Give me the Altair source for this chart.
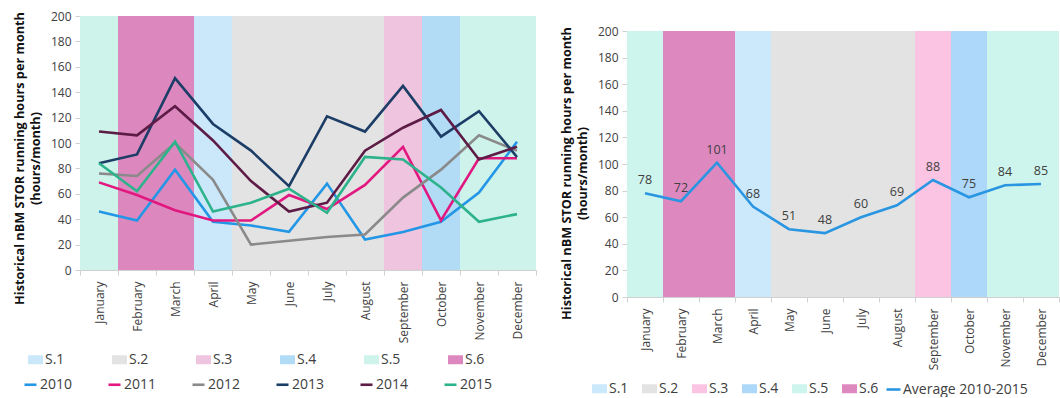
import altair as alt
import pandas as pd

# Calendar months and the season band each one falls in
months = ["January", "February", "March", "April", "May", "June",
          "July", "August", "September", "October", "November", "December"]
month_season = ["S.5", "S.6", "S.6", "S.1", "S.2", "S.2",
                "S.2", "S.2", "S.3", "S.4", "S.5", "S.5"]
season_names = ["S.1", "S.2", "S.3", "S.4", "S.5", "S.6"]
band_ceiling = [200] * 12

# Monthly STOR running hours per year
years = ["2010", "2011", "2012", "2013", "2014", "2015"]
hours_2010 = [46, 39, 79, 38, 35, 30, 68, 24, 30, 38, 61, 101]
hours_2011 = [69, 59, 47, 39, 39, 59, 48, 67, 97, 39, 88, 88]
hours_2012 = [76, 74, 100, 71, 20, 23, 26, 28, 57, 79, 106, 94]
hours_2013 = [84, 91, 151, 115, 94, 66, 121, 109, 145, 105, 125, 89]
hours_2014 = [109, 106, 129, 102, 70, 46, 53, 94, 112, 126, 87, 97]
hours_2015 = [84, 62, 101, 46, 53, 64, 45, 89, 87, 65, 38, 44]
average_2010_2015 = [78, 72, 101, 68, 51, 48, 60, 69, 88, 75, 84, 85]

# Colours
season_colors_left = ["#cbe8fb", "#e3e3e3", "#efc4df", "#b2dbf6", "#cdf3ea", "#dc88bf"]
season_colors_right = ["#cce9fb", "#e3e3e3", "#fcc4e3", "#aed8f9", "#cdf5ed", "#de88c0"]
year_colors = ["#2496e6", "#e1187f", "#8a8a8a", "#1c3d66", "#5c1c46", "#2db38b"]
average_color = "#2a96e2"

FONT = "Open Sans"
TEXT = "#404040"
AXIS_LINE = "#d0d0d0"
Y_TITLE = ["Historical nBM STOR running hours per month", "(hours/month)"]

bands = pd.DataFrame({"month": months, "season": month_season, "top": band_ceiling})
yearly = pd.DataFrame({
    "month": months * len(years),
    "year": [y for y in years for _ in months],
    "hours": hours_2010 + hours_2011 + hours_2012 + hours_2013 + hours_2014 + hours_2015,
})
avg = pd.DataFrame({"month": months, "series": "Average 2010-2015", "hours": average_2010_2015})

x_axis = alt.Axis(
    title=None, labelAngle=-90, labelFontSize=12, labelColor=TEXT, labelFont=FONT,
    labelPadding=6, tickBand="extent", tickColor=AXIS_LINE, tickSize=5,
    domainColor=AXIS_LINE, grid=False,
)


def x_enc():
    return alt.X("month:N", sort=months,
                 scale=alt.Scale(paddingInner=0, paddingOuter=0), axis=x_axis)


def y_axis(title_y):
    return alt.Axis(
        title=Y_TITLE, values=list(range(0, 201, 20)), grid=False, domain=False,
        tickColor=AXIS_LINE, tickSize=5, labelFontSize=12, labelColor=TEXT,
        labelFont=FONT, labelPadding=4, labelOverlap=False, titleFont=FONT,
        titleFontSize=12.7, titleFontWeight="bold", titleColor="#111111",
        titleY=title_y, titlePadding=8, titleLineHeight=16,
    )


def band_legend(lx, ly, pad, size):
    return alt.Legend(
        title=None, orient="none", legendX=lx, legendY=ly, direction="horizontal",
        columns=6, gridAlign="all", symbolType="M-1,-0.6H1V0.6H-1Z", symbolSize=225,
        symbolStrokeWidth=0, labelFontSize=size, labelFont=FONT, labelColor=TEXT,
        labelOffset=2, columnPadding=pad,
    )


# Left: every year against the season bands
left_bands = alt.Chart(bands).mark_bar(opacity=1).encode(
    x=x_enc(),
    y=alt.Y("top:Q", scale=alt.Scale(domain=[0, 200], nice=False), axis=y_axis(142)),
    color=alt.Color("season:N", scale=alt.Scale(domain=season_names, range=season_colors_left),
                    legend=band_legend(-52, 336, 47, 14)),
)
left_lines = alt.Chart(yearly).mark_line(strokeWidth=2.6).encode(
    x=x_enc(),
    y=alt.Y("hours:Q", axis=y_axis(142)),
    color=alt.Color("year:N", scale=alt.Scale(domain=years, range=year_colors),
                    legend=alt.Legend(
                        title=None, orient="none", legendX=-57, legendY=361,
                        direction="horizontal", columns=6, gridAlign="all",
                        symbolType="stroke", symbolSize=144, symbolStrokeWidth=2.6,
                        labelFontSize=14, labelFont=FONT, labelColor=TEXT,
                        labelOffset=2, columnPadding=30)),
)
left = alt.layer(left_bands, left_lines).resolve_scale(color="independent").properties(
    width=456, height=254)

# Right: the six-year average with value labels
right_scale = alt.Scale(domain=[0, 211.3], nice=False)
right_bands = alt.Chart(bands).mark_bar(opacity=1).encode(
    x=x_enc(),
    y=alt.Y("top:Q", scale=right_scale, axis=y_axis(157)),
    color=alt.Color("season:N", scale=alt.Scale(domain=season_names, range=season_colors_right),
                    legend=band_legend(-35, 365, 13, 14)),
)
right_line = alt.Chart(avg).mark_line(strokeWidth=2.6).encode(
    x=x_enc(),
    y=alt.Y("hours:Q", axis=y_axis(157)),
    color=alt.Color("series:N", scale=alt.Scale(range=[average_color]),
                    legend=alt.Legend(
                        title=None, orient="none", legendX=258, legendY=365,
                        symbolType="stroke", symbolSize=196, symbolStrokeWidth=2.6,
                        labelFontSize=14, labelFont=FONT, labelColor=TEXT, labelOffset=1)),
)
right_labels = alt.Chart(avg).mark_text(dy=-13, fontSize=12.5, font=FONT, color=TEXT).encode(
    x=x_enc(),
    y=alt.Y("hours:Q", axis=y_axis(157)),
    text=alt.Text("hours:Q"),
)
right = alt.layer(right_bands, right_line, right_labels).resolve_scale(
    color="independent").properties(width=432, height=281)

chart = alt.hconcat(left, right, spacing=91, bounds="flush").properties(
    padding={"left": 13, "top": 10, "right": 0, "bottom": 0},
    background="white",
).configure_view(stroke=None)

chart.save("out.html", embed_options={"renderer": "svg", "actions": False})
